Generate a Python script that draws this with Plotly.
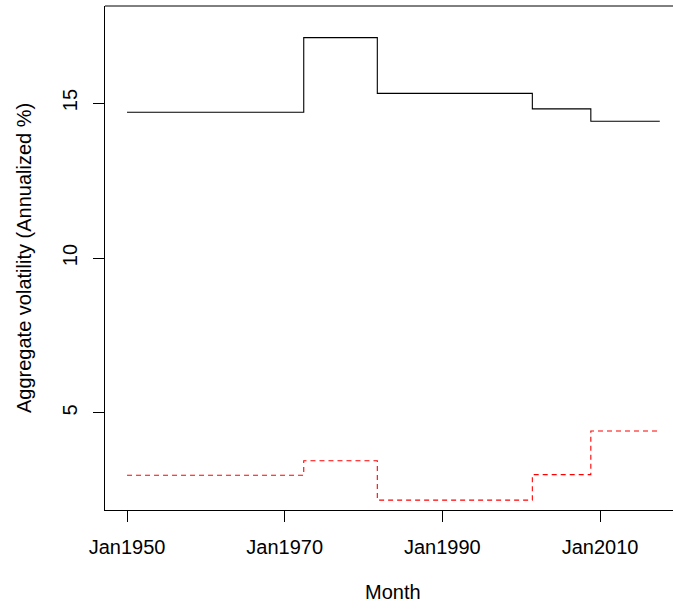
import plotly.graph_objects as go

# Regime break dates (start of each regime, plus the sample end)
months = ["1950-01-01", "1972-06-01", "1981-10-01", "2001-06-01", "2008-11-01", "2017-08-01"]
# Aggregate volatility per regime (annualized %), last value repeated to close the step
total_vol = [14.70, 17.11, 15.31, 14.81, 14.41, 14.41]
common_vol = [2.99, 3.46, 2.19, 3.01, 4.42, 4.42]

tick_vals = ["1950-01-01", "1970-01-01", "1990-01-01", "2010-01-01"]
y_ticks = [5, 10, 15]

FONT = "Liberation Sans, Arial, Helvetica, sans-serif"

fig = go.Figure()
fig.add_trace(go.Scatter(
    x=months, y=total_vol, mode="lines", line_shape="hv",
    line=dict(color="black", width=1.1), showlegend=False,
))
fig.add_trace(go.Scatter(
    x=months, y=common_vol, mode="lines", line_shape="hv",
    line=dict(color="#ff0000", width=1.1, dash="5px,4px"), showlegend=False,
))

fig.update_layout(
    width=673, height=610,
    margin=dict(l=105, r=0, t=6, b=100),
    paper_bgcolor="white", plot_bgcolor="white",
    font=dict(family=FONT, size=20, color="black"),
    xaxis=dict(
        type="date", range=["1947-03-17", "2019-04-05"],
        tickvals=tick_vals, tickformat="%b%Y",
        showgrid=False, zeroline=False,
        showline=True, linecolor="black", linewidth=1,
        ticks="outside", ticklen=11, tickwidth=1, tickcolor="black",
        ticklabelstandoff=8,
    ),
    yaxis=dict(
        range=[1.87, 18.13], tickvals=y_ticks, tickangle=-90,
        showgrid=False, zeroline=False,
        showline=True, linecolor="black", linewidth=1,
        ticks="outside", ticklen=11, tickwidth=1, tickcolor="black",
        ticklabelstandoff=8,
    ),
    shapes=[dict(type="line", xref="paper", yref="paper", x0=0, x1=1, y0=1, y1=1,
                 line=dict(color="black", width=1))],
    annotations=[
        dict(text="Month", xref="paper", yref="paper", x=(393 - 105) / 568, y=-82 / 504,
             xanchor="center", yanchor="middle", showarrow=False, font=dict(size=20)),
        dict(text="Aggregate volatility (Annualized %)", xref="paper", yref="paper",
             x=-81 / 568, y=0.5, textangle=-90, xanchor="center", yanchor="middle",
             showarrow=False, font=dict(size=20)),
    ],
)

fig.write_html("out.html")
